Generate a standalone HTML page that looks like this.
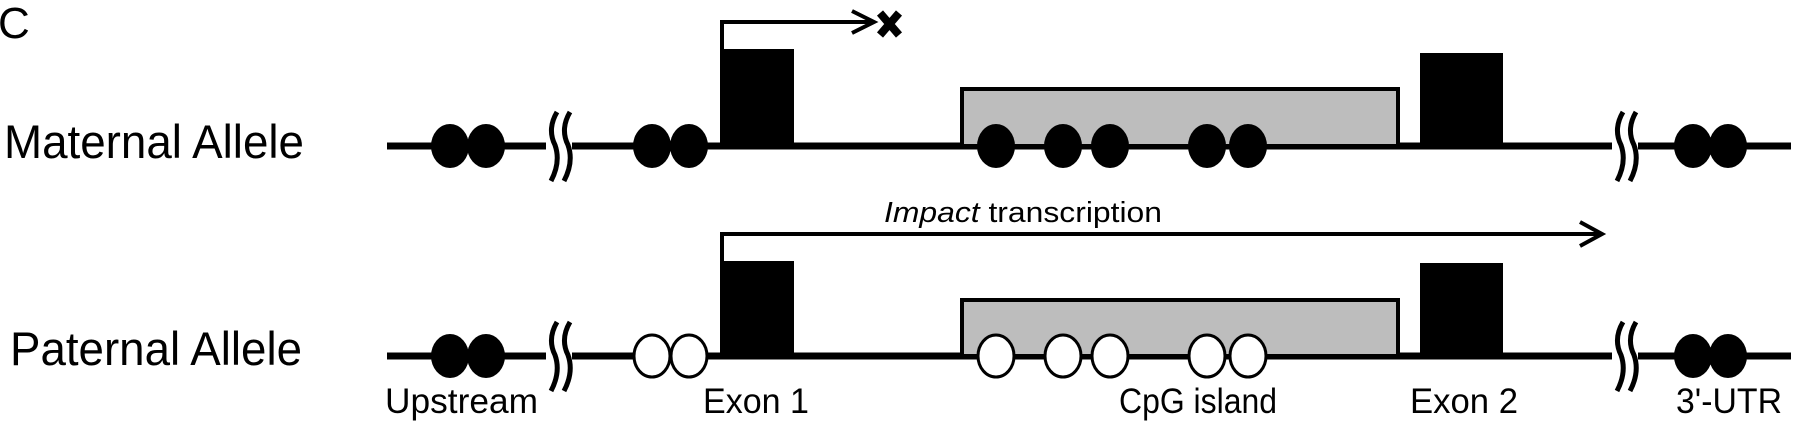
<!DOCTYPE html>
<html><head><meta charset="utf-8"><style>
html,body{margin:0;padding:0;background:#fff;}
svg{display:block;}
text{font-family:"Liberation Sans",sans-serif;fill:#000;}
</style></head><body>
<svg width="1800" height="425" viewBox="0 0 1800 425" xmlns="http://www.w3.org/2000/svg">
<text x="-2" y="38" font-size="44">C</text>
<text x="4" y="158" font-size="47" textLength="300" lengthAdjust="spacingAndGlyphs">Maternal Allele</text>
<text x="10" y="365" font-size="47" textLength="292" lengthAdjust="spacingAndGlyphs">Paternal Allele</text>

<g>
<line x1="387" y1="146" x2="1791" y2="146" stroke="#000" stroke-width="7"/>
<rect x="962" y="89" width="436" height="57" fill="#bdbdbd" stroke="#000" stroke-width="4"/>
<rect x="720" y="49" width="74" height="97" fill="#000"/>
<rect x="1420" y="53" width="83" height="93" fill="#000"/>
<g fill="#000">
<ellipse cx="450" cy="146" rx="19" ry="22"/><ellipse cx="486" cy="146" rx="19" ry="22"/>
<ellipse cx="652" cy="146" rx="19" ry="22"/><ellipse cx="689" cy="146" rx="19" ry="22"/>
<ellipse cx="996" cy="146" rx="19" ry="22"/><ellipse cx="1063" cy="146" rx="19" ry="22"/><ellipse cx="1110" cy="146" rx="19" ry="22"/>
<ellipse cx="1207" cy="146" rx="19" ry="22"/><ellipse cx="1248" cy="146" rx="19" ry="22"/>
<ellipse cx="1693" cy="146" rx="19" ry="22"/><ellipse cx="1728" cy="146" rx="19" ry="22"/>
</g>
<rect x="546" y="130" width="26" height="32" fill="#fff"/>
<path d="M557 112 q-10 17 -2 33 q6 17 -4 36 M570 112 q-10 17 -2 33 q6 17 -4 36" fill="none" stroke="#000" stroke-width="5"/>
<rect x="1612" y="130" width="26" height="32" fill="#fff"/>
<path d="M1623 112 q-10 17 -2 33 q6 17 -4 36 M1636 112 q-10 17 -2 33 q6 17 -4 36" fill="none" stroke="#000" stroke-width="5"/>
<polyline points="722,49 722,22 872,22" fill="none" stroke="#000" stroke-width="4"/>
<path d="M852 11 L874 22 L852 33" fill="none" stroke="#000" stroke-width="4"/>
<path d="M880 13 L899 35 M899 13 L880 35" stroke="#000" stroke-width="8"/>
</g>

<text x="884" y="222" font-size="29" textLength="278" lengthAdjust="spacingAndGlyphs"><tspan font-style="italic">Impact</tspan>   transcription</text>
<polyline points="722,261 722,234 1600,234" fill="none" stroke="#000" stroke-width="4"/>
<path d="M1580 222 L1602 234 L1580 246" fill="none" stroke="#000" stroke-width="4"/>

<g>
<line x1="387" y1="356" x2="1791" y2="356" stroke="#000" stroke-width="7"/>
<rect x="962" y="300" width="436" height="56" fill="#bdbdbd" stroke="#000" stroke-width="4"/>
<rect x="720" y="261" width="74" height="95" fill="#000"/>
<rect x="1420" y="263" width="83" height="93" fill="#000"/>
<g fill="#000">
<ellipse cx="450" cy="356" rx="19" ry="22"/><ellipse cx="486" cy="356" rx="19" ry="22"/>
<ellipse cx="1693" cy="356" rx="19" ry="22"/><ellipse cx="1728" cy="356" rx="19" ry="22"/>
</g>
<g fill="#fff" stroke="#000" stroke-width="3">
<ellipse cx="652" cy="356" rx="18" ry="21"/><ellipse cx="689" cy="356" rx="18" ry="21"/>
<ellipse cx="996" cy="356" rx="18" ry="21"/><ellipse cx="1063" cy="356" rx="18" ry="21"/><ellipse cx="1110" cy="356" rx="18" ry="21"/>
<ellipse cx="1207" cy="356" rx="18" ry="21"/><ellipse cx="1248" cy="356" rx="18" ry="21"/>
</g>
<rect x="546" y="340" width="26" height="32" fill="#fff"/>
<path d="M557 322 q-10 17 -2 33 q6 17 -4 36 M570 322 q-10 17 -2 33 q6 17 -4 36" fill="none" stroke="#000" stroke-width="5"/>
<rect x="1612" y="340" width="26" height="32" fill="#fff"/>
<path d="M1623 322 q-10 17 -2 33 q6 17 -4 36 M1636 322 q-10 17 -2 33 q6 17 -4 36" fill="none" stroke="#000" stroke-width="5"/>
</g>

<text x="385" y="413" font-size="35" textLength="153" lengthAdjust="spacingAndGlyphs">Upstream</text>
<text x="703" y="413" font-size="35" textLength="106" lengthAdjust="spacingAndGlyphs">Exon 1</text>
<text x="1119" y="413" font-size="35" textLength="158" lengthAdjust="spacingAndGlyphs">CpG island</text>
<text x="1410" y="413" font-size="35" textLength="108" lengthAdjust="spacingAndGlyphs">Exon 2</text>
<text x="1676" y="413" font-size="35" textLength="106" lengthAdjust="spacingAndGlyphs">3'-UTR</text>
</svg>
</body></html>
